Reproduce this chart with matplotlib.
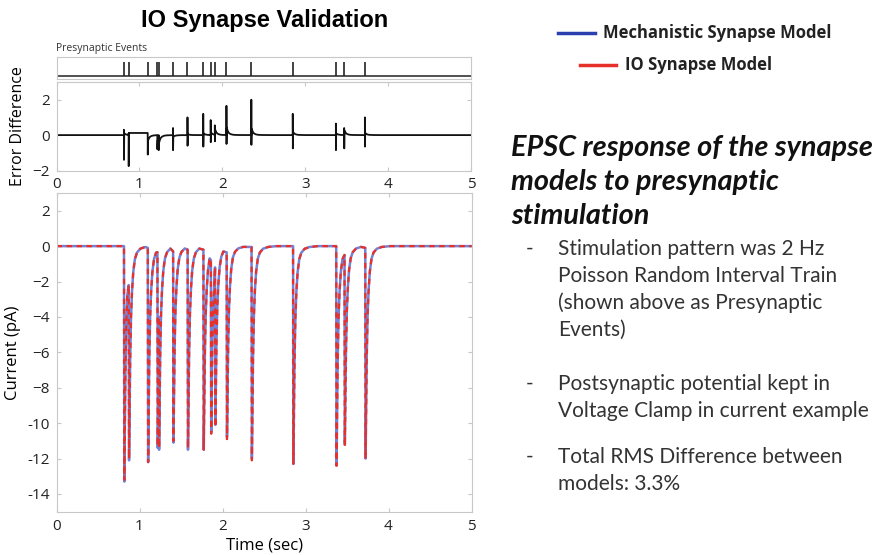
import numpy as np
import matplotlib
matplotlib.use('Agg')
import matplotlib.pyplot as plt
from matplotlib.lines import Line2D

# presynaptic event times (s) and the EPSC
events = [0.813, 0.870, 1.100, 1.216, 1.232, 1.405, 1.580, 1.770,
          1.860, 1.910, 2.050, 2.350, 2.850, 3.370, 3.470, 3.720]
mech_peaks = [-13.3, -12.1, -12.2, -11.4, -11.5, -11.1, -11.5, -11.5,
              -10.5, -10.1, -10.8, -12.0, -12.3, -12.4, -11.2, -12.0]
io_peaks = [-13.2, -12.0, -12.2, -11.3, -11.4, -11.0, -11.4, -11.5,
            -10.6, -10.2, -10.9, -12.1, -12.3, -12.4, -11.3, -12.0]
# current level just before each event (top of each arch)
tops = [0.0, -2.2, -0.1, -0.35, -4.0, -0.3, -0.2, -0.2,
        -0.8, -1.2, -0.35, -0.05, 0.0, 0.0, -0.5, -0.1]
# recovery shape after a peak: time after event (s), fraction of peak left
decay_t = [0.004, 0.010, 0.018, 0.028, 0.040, 0.055, 0.075, 0.100, 0.140, 0.200, 0.300]
decay_f = [1.00, 0.78, 0.52, 0.33, 0.21, 0.12, 0.06, 0.03, 0.012, 0.004, 0.0]

# error difference spikes at each event
err_up = [0.3, 0.1, 0.0, 0.0, 0.0, 0.4, 1.0, 1.2, 0.85, 0.55, 1.65, 2.0, 1.2, 0.65, 0.4, 1.0]
err_down = [-1.4, -1.75, -1.1, -0.8, -0.85, -0.85, -0.6, -0.65,
            -0.4, -0.35, -0.5, -0.55, -0.75, -0.85, -0.75, -0.65]
err_bump = [0.1, 0.0, -0.3, -0.3, -0.45, -0.1, 0.05, 0.1,
            0.15, 0.3, 0.4, 0.35, 0.18, 0.1, 0.25, 0.12]
err_level = [0, 0.12, 0, 0, 0, 0, 0, 0, 0, 0, 0, 0, 0, 0, 0, 0]

cur_ticks = [-14, -12, -10, -8, -6, -4, -2, 0, 2]
cur_ticklabels = ['-14', '-12', '-10', '\u22128', '\u22126', '\u22124', '\u22122', '0', '2']

T_END = 5.0


def epsc_trace(peaks):
    t_pts, i_pts = [0.0], [0.0]
    for k, (t0, pk, top) in enumerate(zip(events, peaks, tops)):
        t_next = events[k + 1] if k + 1 < len(events) else T_END
        t_pts.append(t0)
        i_pts.append(top)
        for dt, f in zip(decay_t, decay_f):
            if t0 + dt < t_next - 0.003:
                t_pts.append(t0 + dt)
                i_pts.append(pk * f)
    t_pts.append(T_END)
    i_pts.append(0.0)
    return np.array(t_pts), np.array(i_pts)


def error_trace():
    t_pts, e_pts = [0.0], [0.0]
    for k, t0 in enumerate(events):
        t_next = events[k + 1] if k + 1 < len(events) else T_END
        t_pts += [t0, t0, t0 + 0.001]
        e_pts += [e_pts[-1], err_up[k], err_down[k]]
        for dt, f in zip(decay_t, decay_f):
            if t0 + dt < t_next - 0.003:
                t_pts.append(t0 + dt)
                e_pts.append(err_level[k] + err_bump[k] * f)
    t_pts.append(T_END)
    e_pts.append(e_pts[-1])
    return np.array(t_pts), np.array(e_pts)


plt.rcParams['font.family'] = ['Open Sans', 'DejaVu Sans']
FRAME = '#c8c8c8'
BLUE = '#3b4cc0'
RED = '#e8302a'

W, H = 881, 555
fig = plt.figure(figsize=(W / 100, H / 100), dpi=100)


def px_axes(x0, y0, x1, y1):
    return fig.add_axes([x0 / W, 1 - y1 / H, (x1 - x0) / W, (y1 - y0) / H])


def style(ax):
    for s in ax.spines.values():
        s.set_color(FRAME)
    ax.tick_params(direction='in', color=FRAME, length=3, labelsize=11,
                   labelcolor='#222222', top=True, right=True, pad=5)


# presynaptic events strip
ax_pre = px_axes(56.5, 57, 471, 79)
style(ax_pre)
ax_pre.set_xlim(0, 5)
ax_pre.set_ylim(0, 1)
ax_pre.set_xticks([])
ax_pre.set_yticks([])
ax_pre.axhline(0.14, color='#333333', lw=1.2)
ax_pre.vlines(events, 0.14, 0.78, color='#222222', lw=1.2)
fig.text(56.5 / W, 1 - 48 / H, 'Presynaptic Events', fontsize=7.5,
         color='#333333', va='center')

# error difference
ax_err = px_axes(56.5, 82, 471, 170.5)
style(ax_err)
te, ee = error_trace()
ax_err.plot(te, ee, color='#111111', lw=1.3)
ax_err.set_xlim(0, 5)
ax_err.set_ylim(-2, 3)
ax_err.set_yticks([-2, 0, 2])
ax_err.set_yticklabels(['\u22122', '0', '2'])
ax_err.set_xticks([0, 1, 2, 3, 4, 5])
ax_err.set_ylabel('Error Difference', fontsize=11.5, labelpad=4)

# current traces
ax_cur = px_axes(56.5, 193, 471.5, 511.7)
style(ax_cur)
tm, im = epsc_trace(mech_peaks)
ti, ii = epsc_trace(io_peaks)
ax_cur.plot(tm, im, color=BLUE, lw=1.8, alpha=0.7)
ax_cur.plot(ti, ii, color=RED, lw=1.6, ls=(0, (2.5, 2)))
ax_cur.set_xlim(0, 5)
ax_cur.set_ylim(-15, 3)
ax_cur.set_yticks(cur_ticks)
ax_cur.set_yticklabels(cur_ticklabels)
ax_cur.set_xticks([0, 1, 2, 3, 4, 5])
ax_cur.set_ylabel('Current (pA)', fontsize=12, labelpad=4)
ax_cur.set_xlabel('Time (sec)', fontsize=12, labelpad=3)

fig.text(265 / W, 1 - 20 / H, 'IO Synapse Validation', fontsize=17,
         fontweight='bold', family='Liberation Sans', ha='center', va='center')

# legend drawn in figure coordinates
fig.add_artist(Line2D([558 / W, 595 / W], [1 - 33 / H] * 2, color='#2b3fae', lw=2.5))
fig.add_artist(Line2D([580 / W, 616 / W], [1 - 65 / H] * 2, color=RED, lw=2.5))
fig.text(603 / W, 1 - 33 / H, 'Mechanistic Synapse Model', fontsize=12,
         fontweight='bold', va='center', color='#222222')
fig.text(625 / W, 1 - 65 / H, 'IO Synapse Model', fontsize=12,
         fontweight='bold', va='center', color='#222222')

# right side notes
head = ['EPSC response of the synapse', 'models to presynaptic', 'stimulation']
for k, line in enumerate(head):
    fig.text(511 / W, 1 - (148 + 34 * k) / H, line, fontsize=20.8, family='Lato',
             fontweight='bold', style='italic', va='center', color='#111111')

bullets = [
    (249, ['Stimulation pattern was 2 Hz', 'Poisson Random Interval Train',
           '(shown above as Presynaptic', 'Events)']),
    (384, ['Postsynaptic potential kept in', 'Voltage Clamp in current example']),
    (457, ['Total RMS Difference between', 'models: 3.3%']),
]
for y0, lines in bullets:
    fig.text(526 / W, 1 - y0 / H, '-', fontsize=15, family='Lato',
             va='center', color='#333333')
    for k, line in enumerate(lines):
        fig.text(558 / W, 1 - (y0 + 27 * k) / H, line, fontsize=15,
                 family='Lato', va='center', color='#333333')

fig.savefig('out.png', dpi=100)
